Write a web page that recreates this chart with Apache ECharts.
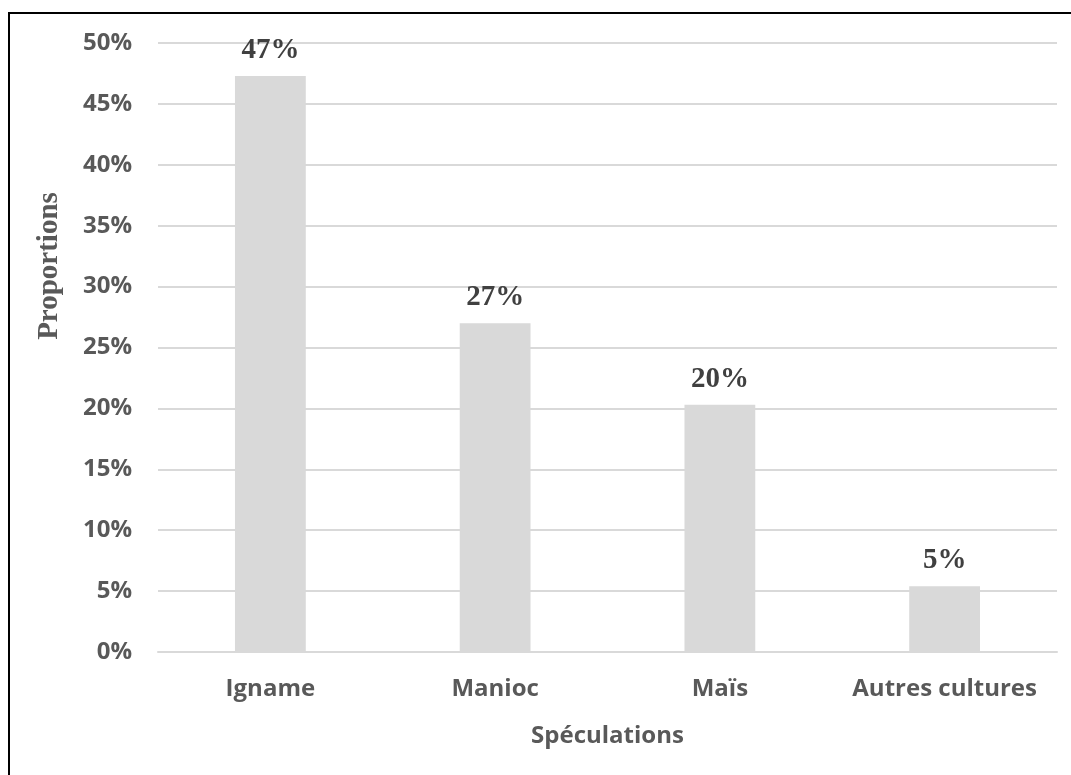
<!DOCTYPE html>
<html>
<head>
<meta charset="utf-8">
<script src="https://cdn.jsdelivr.net/npm/echarts@6/dist/echarts.min.js"></script>
<style>
  html, body { margin: 0; padding: 0; background: #ffffff; }
  #chart { width: 1071px; height: 775px; }
</style>
</head>
<body>
<div id="chart"></div>
<script>
// Share of each crop (%)
const categories = ['Igname', 'Manioc', 'Maïs', 'Autres cultures'];
const proportions = [47.3, 27.0, 20.3, 5.4];
const valueLabels = ['47%', '27%', '20%', '5%'];

const sansBold = { fontFamily: 'Open Sans', fontWeight: 'bold', color: '#595959' };

const chart = echarts.init(document.getElementById('chart'), null, { renderer: 'canvas' });

chart.setOption({
  animation: false,
  backgroundColor: '#ffffff',
  grid: { left: 158, right: 14, top: 43, bottom: 123, containLabel: false },
  xAxis: {
    type: 'category',
    data: categories,
    axisLine: { show: true, lineStyle: { color: '#d9d9d9', width: 2 } },
    axisTick: { show: false },
    axisLabel: Object.assign({ fontSize: 24, margin: 25, interval: 0, hideOverlap: false }, sansBold),
    name: 'Spéculations',
    nameLocation: 'middle',
    nameGap: 72,
    nameTextStyle: Object.assign({ fontSize: 24 }, sansBold)
  },
  yAxis: {
    type: 'value',
    min: 0,
    max: 50,
    interval: 5,
    axisLine: { show: false },
    axisTick: { show: false },
    splitLine: { lineStyle: { color: '#d9d9d9', width: 2 } },
    axisLabel: Object.assign({ fontSize: 24, margin: 26, formatter: '{value}%' }, sansBold)
  },
  series: [{
    type: 'bar',
    data: proportions,
    barWidth: '31.5%',
    itemStyle: { color: '#d9d9d9' },
    label: {
      show: true,
      position: 'top',
      distance: 11,
      formatter: p => valueLabels[p.dataIndex],
      fontFamily: 'Liberation Serif',
      fontWeight: 'bold',
      fontSize: 29,
      color: '#404040'
    }
  }],
  graphic: [
    {
      // frame around the whole figure
      type: 'rect',
      shape: { x: 9, y: 13, width: 1100, height: 800 },
      style: { fill: 'none', stroke: '#000000', lineWidth: 2 },
      silent: true
    },
    {
      // vertical axis title
      type: 'text',
      x: 50,
      y: 266,
      rotation: Math.PI / 2,
      style: {
        text: 'Proportions',
        font: 'bold 29px "Liberation Serif"',
        fill: '#595959',
        align: 'center',
        verticalAlign: 'middle'
      }
    }
  ]
});
</script>
</body>
</html>
